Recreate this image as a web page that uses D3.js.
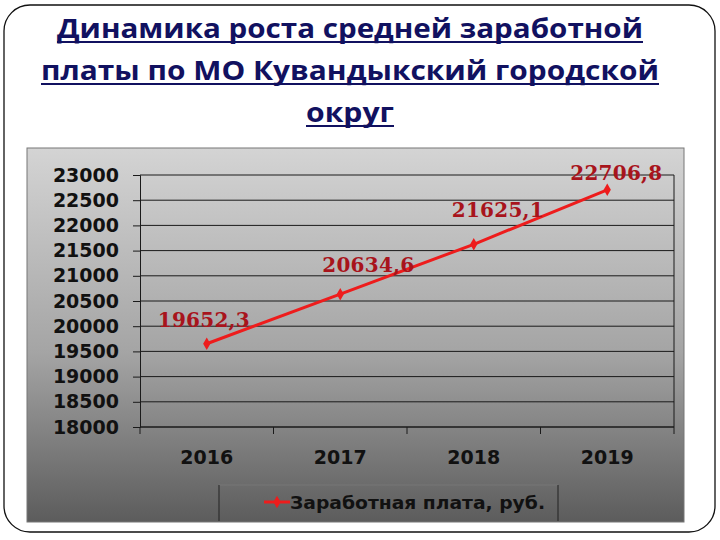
<!DOCTYPE html>
<html lang="ru">
<head>
<meta charset="UTF-8">
<title>Динамика роста средней заработной платы</title>
<script src="https://cdn.jsdelivr.net/npm/d3@7"></script>
<style>
  body { margin: 0; background: #fff; }
</style>
</head>
<body>
<div id="chart"></div>
<script>
// data
var years = ["2016", "2017", "2018", "2019"];
var salary = [19652.3, 20634.6, 21625.1, 22706.8];
var yTicks = [18000, 18500, 19000, 19500, 20000, 20500, 21000, 21500, 22000, 22500, 23000];
var titleLines = ["Динамика роста средней заработной", "платы по МО Кувандыкский городской", "округ"];
var seriesName = "Заработная плата, руб.";

var width = 720, height = 540;

var svg = d3.select("#chart").append("svg")
    .attr("width", width)
    .attr("height", height);

// outer rounded frame
svg.append("rect")
    .attr("x", 4).attr("y", 5)
    .attr("width", 711).attr("height", 527)
    .attr("rx", 26)
    .attr("fill", "#fff")
    .attr("stroke", "#111")
    .attr("stroke-width", 1.3);

// title, underlined
var title = svg.append("g").attr("class", "title");
var titleWidths = [586, 618, 88];
titleLines.forEach(function(t, i) {
    var ty = 38 + i * 42;
    title.append("text")
        .attr("x", 350)
        .attr("y", ty)
        .attr("text-anchor", "middle")
        .style("font-family", "'Open Sans', sans-serif")
        .style("font-weight", "bold")
        .style("font-size", "27px")
        .attr("fill", "#111160")
        .attr("textLength", titleWidths[i])
        .attr("lengthAdjust", "spacingAndGlyphs")
        .text(t);
    title.append("line")
        .attr("x1", 350 - titleWidths[i] / 2).attr("x2", 350 + titleWidths[i] / 2)
        .attr("y1", ty + 4).attr("y2", ty + 4)
        .attr("stroke", "#111160").attr("stroke-width", 2.2);
});

// gray gradient panel
var defs = svg.append("defs");
var grad = defs.append("linearGradient")
    .attr("id", "bg").attr("x1", 0).attr("y1", 0).attr("x2", 0).attr("y2", 1);
grad.append("stop").attr("offset", "0%").attr("stop-color", "#d4d4d4");
grad.append("stop").attr("offset", "55%").attr("stop-color", "#a4a4a4");
grad.append("stop").attr("offset", "100%").attr("stop-color", "#5c5c5c");

svg.append("rect")
    .attr("x", 27).attr("y", 148)
    .attr("width", 657).attr("height", 374)
    .attr("fill", "url(#bg)")
    .attr("stroke", "#777").attr("stroke-width", 1);

// scales
var plot = { left: 140, right: 674, top: 175, bottom: 427 };

var x = d3.scaleBand()
    .domain(years)
    .range([plot.left, plot.right]);

var y = d3.scaleLinear()
    .domain([18000, 23000])
    .range([plot.bottom, plot.top]);

// gridlines
svg.append("g")
    .selectAll("line")
    .data(yTicks)
    .enter()
    .append("line")
    .attr("x1", plot.left).attr("x2", plot.right)
    .attr("y1", function(d) { return y(d); })
    .attr("y2", function(d) { return y(d); })
    .attr("stroke", "#1a1a1a").attr("stroke-width", 1);

// plot border right
svg.append("line")
    .attr("x1", plot.right).attr("x2", plot.right)
    .attr("y1", plot.top).attr("y2", plot.bottom)
    .attr("stroke", "#1a1a1a");

// y axis
var yAxis = svg.append("g")
    .attr("transform", "translate(" + plot.left + ",0)")
    .call(d3.axisLeft(y).tickValues(yTicks).tickSize(7).tickPadding(14).tickFormat(d3.format("d")));
yAxis.select(".domain").attr("stroke", "#1a1a1a");
yAxis.selectAll(".tick line").attr("stroke", "#1a1a1a");
yAxis.selectAll("text")
    .style("font-family", "'DejaVu Sans', sans-serif")
    .style("font-weight", "bold")
    .style("font-size", "19px")
    .attr("fill", "#111");

// x axis with ticks at band edges
var xAxis = svg.append("g")
    .attr("transform", "translate(0," + plot.bottom + ")");
xAxis.append("line")
    .attr("x1", plot.left).attr("x2", plot.right)
    .attr("stroke", "#1a1a1a");
xAxis.selectAll(".edge")
    .data(years.concat(["end"]))
    .enter()
    .append("line")
    .attr("class", "edge")
    .attr("x1", function(d, i) { return plot.left + i * x.bandwidth(); })
    .attr("x2", function(d, i) { return plot.left + i * x.bandwidth(); })
    .attr("y1", 0).attr("y2", 7)
    .attr("stroke", "#1a1a1a");
xAxis.selectAll("text")
    .data(years)
    .enter()
    .append("text")
    .attr("x", function(d) { return x(d) + x.bandwidth() / 2; })
    .attr("y", 37)
    .attr("text-anchor", "middle")
    .style("font-family", "'DejaVu Sans', sans-serif")
    .style("font-weight", "bold")
    .style("font-size", "19px")
    .attr("fill", "#111")
    .text(function(d) { return d; });

// line series
var pts = years.map(function(d, i) { return { year: d, value: salary[i] }; });
var cx = function(d) { return x(d.year) + x.bandwidth() / 2; };

svg.append("path")
    .datum(pts)
    .attr("d", d3.line().x(cx).y(function(d) { return y(d.value); }))
    .attr("fill", "none")
    .attr("stroke", "#ee1c1c")
    .attr("stroke-width", 3);

svg.append("g")
    .selectAll("path")
    .data(pts)
    .enter()
    .append("path")
    .attr("transform", function(d) { return "translate(" + cx(d) + "," + y(d.value) + ")"; })
    .attr("d", d3.symbol().type(d3.symbolDiamond).size(45))
    .attr("fill", "#ee1c1c");

// data labels (placed like in the original slide)
var labelShift = [[-3, -17], [28, -22], [24, -27], [9, -10]];
svg.append("g")
    .selectAll("text")
    .data(pts)
    .enter()
    .append("text")
    .attr("x", function(d, i) { return cx(d) + labelShift[i][0]; })
    .attr("y", function(d, i) { return y(d.value) + labelShift[i][1]; })
    .attr("text-anchor", "middle")
    .style("font-family", "'DejaVu Serif', serif")
    .style("font-weight", "bold")
    .style("font-size", "20px")
    .attr("fill", "#a8141c")
    .attr("textLength", 92)
    .attr("lengthAdjust", "spacing")
    .text(function(d) { return d3.format(".1f")(d.value).replace(".", ","); });

// legend
var legend = svg.append("g");
legend.append("line")
    .attr("x1", 219).attr("x2", 558).attr("y1", 485).attr("y2", 485)
    .attr("stroke", "#777");
legend.append("line")
    .attr("x1", 219).attr("x2", 219).attr("y1", 485).attr("y2", 521)
    .attr("stroke", "#222");
legend.append("line")
    .attr("x1", 558).attr("x2", 558).attr("y1", 485).attr("y2", 521)
    .attr("stroke", "#222");
legend.append("line")
    .attr("x1", 264).attr("x2", 290).attr("y1", 502).attr("y2", 502)
    .attr("stroke", "#ee1c1c").attr("stroke-width", 3);
legend.append("path")
    .attr("transform", "translate(277,502)")
    .attr("d", d3.symbol().type(d3.symbolDiamond).size(45))
    .attr("fill", "#ee1c1c");
legend.append("text")
    .attr("x", 290).attr("y", 509)
    .style("font-family", "'DejaVu Sans', sans-serif")
    .style("font-weight", "bold")
    .style("font-size", "18px")
    .attr("fill", "#111")
    .attr("textLength", 255)
    .attr("lengthAdjust", "spacingAndGlyphs")
    .text(seriesName);
</script>
</body>
</html>
